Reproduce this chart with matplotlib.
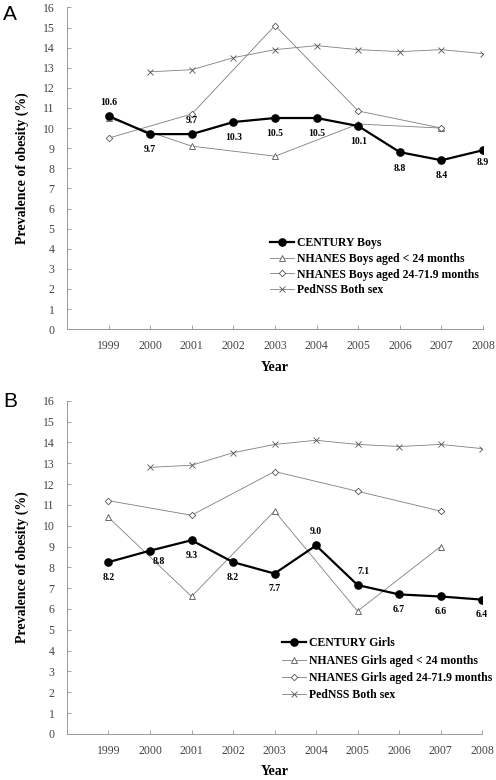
import numpy as np
import matplotlib
matplotlib.use("Agg")
import matplotlib.pyplot as plt

years = [1999, 2000, 2001, 2002, 2003, 2004, 2005, 2006, 2007, 2008]
nhanes_years = [1999, 2001, 2003, 2005, 2007]
pednss_years = [2000, 2001, 2002, 2003, 2004, 2005, 2006, 2007, 2008]

century_boys = [10.6, 9.7, 9.7, 10.3, 10.5, 10.5, 10.1, 8.8, 8.4, 8.9]
nhanes_boys_24 = [10.5, 9.1, 8.6, 10.2, 10.0]
nhanes_boys_72 = [9.5, 10.7, 15.1, 10.85, 10.0]

century_girls = [8.25, 8.8, 9.3, 8.25, 7.7, 9.05, 7.15, 6.7, 6.6, 6.45]
century_girls_lab = ["8.2", "8.8", "9.3", "8.2", "7.7", "9.0", "7.1", "6.7", "6.6", "6.4"]
nhanes_girls_24 = [10.4, 6.6, 10.7, 5.9, 9.0]
nhanes_girls_72 = [11.2, 10.5, 12.6, 11.65, 10.7]

pednss = [12.8, 12.9, 13.5, 13.9, 14.1, 13.9, 13.8, 13.9, 13.7]

century_boys_lab = ["10.6", "9.7", "9.7", "10.3", "10.5", "10.5", "10.1", "8.8", "8.4", "8.9"]
# label offsets in points (dx, dy)
boys_off = [(0, 10), (0, -11), (0, 10), (0, -11), (0, -11), (0, -11), (0, -11), (0, -12), (0, -11), (0, -9)]
girls_off = [(0, -11), (6, -8), (0, -11), (0, -11), (0, -11), (0, 10), (4, 10), (0, -11), (0, -11), (0, -11)]

serif = "Liberation Serif"
gray = "#7f7f7f"

fig = plt.figure(figsize=(4.96, 7.8), dpi=100)
axA = fig.add_axes([0.135, 0.578, 0.839, 0.4125])
axB = fig.add_axes([0.135, 0.059, 0.837, 0.4273])


def draw(ax, century, c_lab, offs, n24, n72, sex, leg_xy, spacing):
    ax.plot(years, century, color="black", lw=1.6, marker="o", ms=5.2,
            mfc="black", mec="black", label="CENTURY " + sex, zorder=5)
    ax.plot(nhanes_years, n24, color=gray, lw=0.6, marker="^", ms=4.5,
            mfc="white", mec="#555555", mew=0.6,
            label="NHANES " + sex + " aged < 24 months", zorder=3)
    ax.plot(nhanes_years, n72, color=gray, lw=0.6, marker="D", ms=3.3,
            mfc="white", mec="#555555", mew=0.6,
            label="NHANES " + sex + " aged 24-71.9 months", zorder=3)
    ax.plot(pednss_years, pednss, color=gray, lw=0.6, marker="x", ms=5,
            mec="#555555", mew=0.6, label="PedNSS Both sex", zorder=3)
    for x, y, t, (dx, dy) in zip(years, century, c_lab, offs):
        ax.annotate(t, (x, y), xytext=(dx, dy), textcoords="offset points",
                    ha="center", va="center", fontsize=7,
                    fontweight="bold", family=serif)
    ax.set_xlim(1998, 2008)
    ax.set_ylim(0, 16)
    ax.set_yticks(np.arange(0, 17, 1))
    ax.set_xticks(years)
    for s in ["top", "right"]:
        ax.spines[s].set_visible(False)
    for s in ["left", "bottom"]:
        ax.spines[s].set_color("#999999")
        ax.spines[s].set_linewidth(0.7)
    ax.tick_params(direction="in", length=3, width=0.6, color="#999999",
                   labelsize=8.5, labelcolor="#444444")
    ax.tick_params(axis="x", pad=8)
    ax.tick_params(axis="y", pad=9)
    for lb in ax.get_xticklabels() + ax.get_yticklabels():
        lb.set_family(serif)
    ax.set_xlabel("Year", fontsize=10, fontweight="bold", family=serif, labelpad=6)
    ax.set_ylabel("Prevalence of obesity (%)", fontsize=10, fontweight="bold",
                  family=serif, labelpad=10)
    ax.legend(loc="upper left", bbox_to_anchor=leg_xy, frameon=False,
              prop={"family": serif, "weight": "bold", "size": 8.5},
              handlelength=2.0, handletextpad=0.3, labelspacing=spacing,
              borderaxespad=0, borderpad=0)


draw(axA, century_boys, century_boys_lab, boys_off, nhanes_boys_24,
     nhanes_boys_72, "Boys", (0.488, 0.285), 0.3)
draw(axB, century_girls, century_girls_lab, girls_off, nhanes_girls_24,
     nhanes_girls_72, "Girls", (0.518, 0.29), 0.45)

fig.text(0.006, 0.975, "A", fontsize=15, family="Liberation Sans")
fig.text(0.006, 0.478, "B", fontsize=15, family="Liberation Sans")

fig.savefig("out.png", dpi=100)
